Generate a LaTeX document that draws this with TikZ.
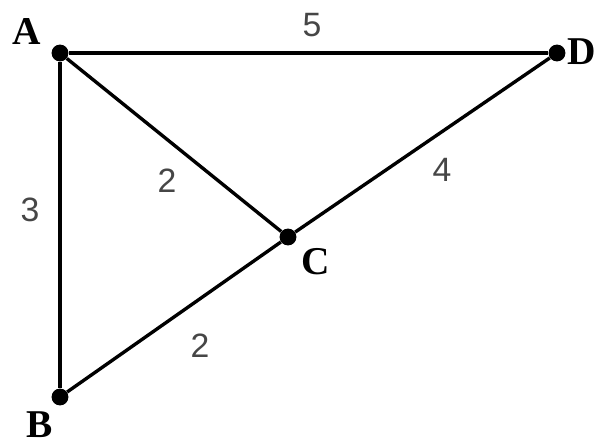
\documentclass[tikz,border=0pt]{standalone}
\usepackage{fontspec}
\setmainfont{Liberation Serif}
\newfontfamily\labelfont{Liberation Sans}
\definecolor{WeightGray}{RGB}{70, 70, 70}
\usetikzlibrary{positioning}

\tikzset{
  vertex/.style={circle, fill=black, inner sep=0pt, minimum size=12pt},
  vname/.style={font=\fontsize{28}{30}\selectfont\bfseries},
  edge/.style={line width=2.4pt, black},
  weight/.style={font=\labelfont\fontsize{24}{26}\selectfont, text=WeightGray}
}

\begin{document}
\begin{tikzpicture}[x=0.025cm, y=-0.025cm]
    \useasboundingbox (0,0) rectangle (597,446);

    \node[vertex] (A) at (60,53) {};
    \node[vertex] (D) at (557,53) {};
    \node[vertex] (B) at (60,397) {};
    \node[vertex] (C) at (288,237) {};

    \node[vname] (labA) at (27,32) {A};
    \node[vname] (labD) at (582,52) {D};
    \node[vname] (labB) at (40,425) {B};
    \node[vname] (labC) at (316,262) {C};

    \draw[edge] (A) -- (D);
    \draw[edge] (A) -- (B);
    \draw[edge] (A) -- (C);
    \draw[edge] (B) -- (C);
    \draw[edge] (C) -- (D);

    \node[weight] (wAD) at (312,25) {5};
    \node[weight] (wAB) at (30,210) {3};
    \node[weight] (wAC) at (167,181) {2};
    \node[weight] (wCD) at (442,170) {4};
    \node[weight] (wBC) at (200,346) {2};
  \end{tikzpicture}
\end{document}
